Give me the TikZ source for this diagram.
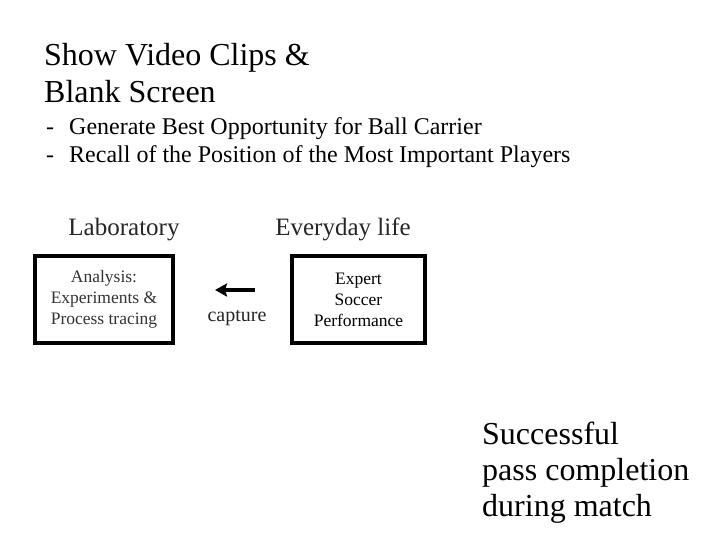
\documentclass[tikz,border=0pt]{standalone}
\usepackage{fontspec}
\setmainfont{Liberation Serif}
\usetikzlibrary{positioning,arrows.meta}
\begin{document}
\begin{tikzpicture}[x=1pt, y=-1pt, node distance=8pt, auto]
    \tikzstyle{panel} = [rectangle, draw, line width=4pt, minimum height=87pt, inner sep=0pt]
    \tikzstyle{boxtext} = [align=center, inner sep=0pt, font=\fontsize{17.5}{21}\selectfont]
    \tikzstyle{heading} = [anchor=base, inner sep=0pt, text=black!85, font=\fontsize{25}{30}\selectfont]
    \tikzstyle{slide} = [anchor=base west, align=left, inner sep=0pt]
    \tikzstyle{line} = [draw, line width=4pt, -{Stealth[length=12pt, width=13pt, inset=2pt]}]

    \useasboundingbox (0,0) rectangle (720,540);

    % multi-line nodes sit on the baseline of their last line
    \node [slide, font=\fontsize{32}{37}\selectfont] (title) at (44,103) {Show Video Clips \&\\Blank Screen};
    \node [slide, font=\fontsize{24}{28}\selectfont] (tasks) at (46,163)
        {\makebox[23pt][l]{-}Generate Best Opportunity for Ball Carrier\\
         \makebox[23pt][l]{-}Recall of the Position of the Most Important Players};

    \node [heading] (labhead) at (124,236) {Laboratory};
    \node [heading] (lifehead) at (343,236) {Everyday life};

    \node [panel, minimum width=138pt] (lab) at (104,299) {};
    \node [boxtext, text=black!80] at (lab.center) {Analysis:\\Experiments \&\\Process tracing};
    \node [panel, minimum width=133pt] (perf) at (358.5,299) {};
    \node [boxtext] at ([yshift=-1pt]perf.center) {Expert\\Soccer\\Performance};

    \draw [line, shorten >=40pt, shorten <=35pt] ([yshift=9pt]perf.west) -- ([yshift=9pt]lab.east);
    \node [text=black!85, inner sep=0pt, font=\fontsize{20}{24}\selectfont] (cap) at (237,318) {capture};

    \node [slide, font=\fontsize{32}{36}\selectfont] (result) at (482,516) {Successful\\pass completion\\during match};
\end{tikzpicture}
\end{document}
